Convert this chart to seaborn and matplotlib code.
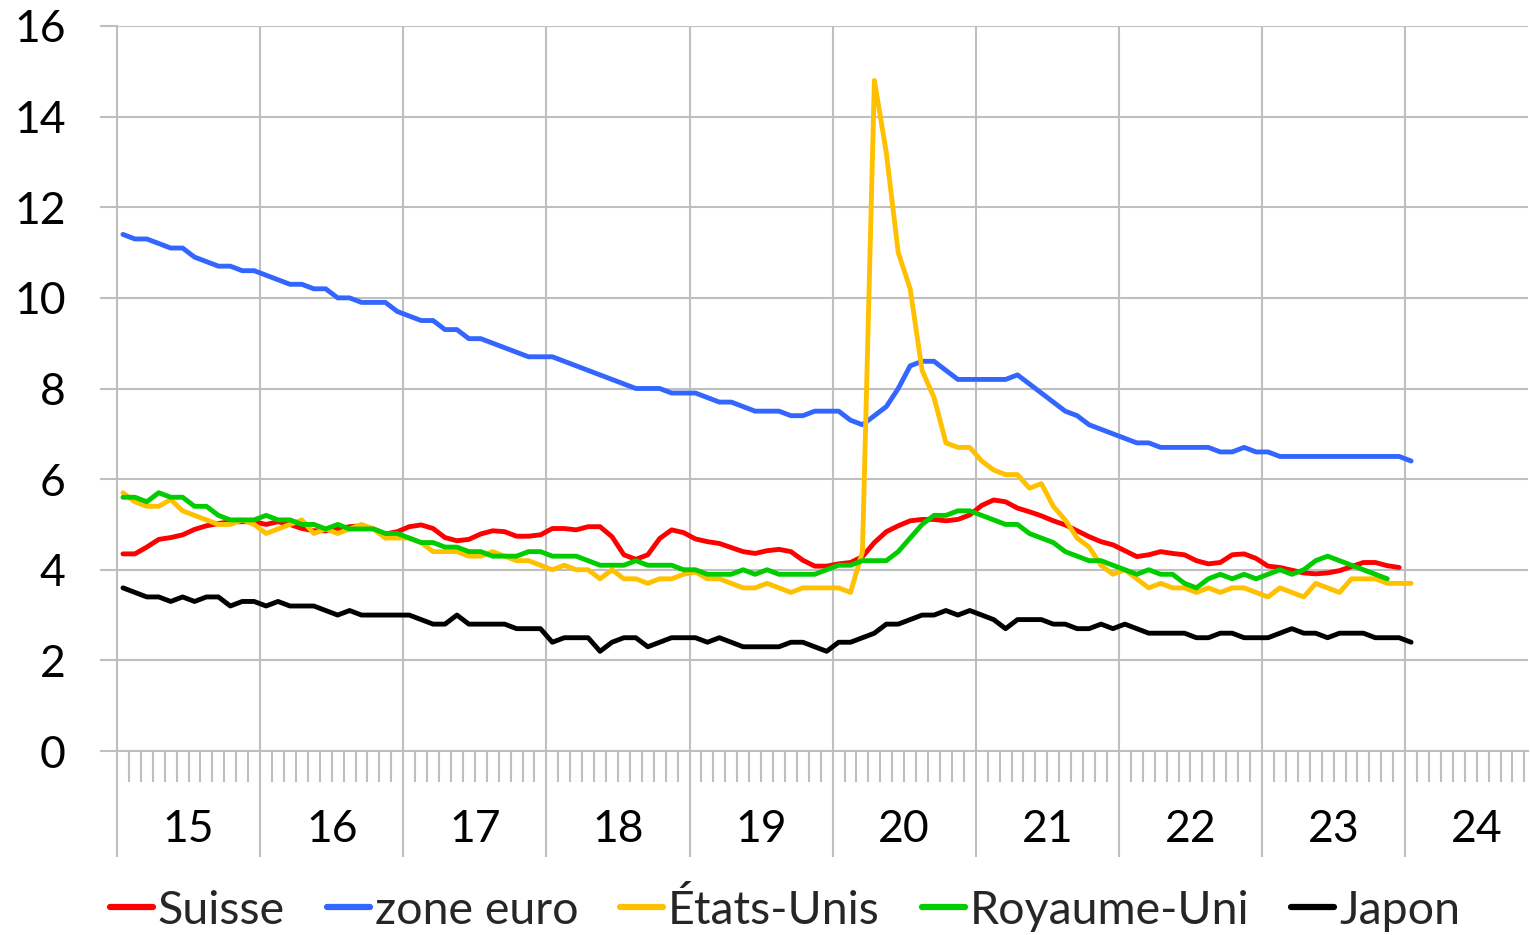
import numpy as np
import pandas as pd
import matplotlib
matplotlib.use("Agg")
import matplotlib.pyplot as plt
import matplotlib.transforms as mtransforms
import seaborn as sns

# Taux de chômage mensuels, janvier 2015 à janvier 2024
series_names = ["Suisse", "zone euro", "États-Unis", "Royaume-Uni", "Japon"]
series_colors = ["#FF0000", "#3366FF", "#FFC000", "#00CC00", "#000000"]
year_labels = ["15", "16", "17", "18", "19", "20", "21", "22", "23", "24"]
y_ticks = [0, 2, 4, 6, 8, 10, 12, 14, 16]
first_month = "2015-01-01"

suisse = [
    4.35, 4.35, 4.50, 4.67, 4.71, 4.77, 4.89, 4.97, 5.02, 5.06, 5.06, 5.06,
    5.00, 5.06, 5.00, 4.91, 4.86, 4.86, 4.90, 4.95, 4.97, 4.90, 4.79, 4.84,
    4.95, 4.99, 4.91, 4.71, 4.64, 4.67, 4.79, 4.86, 4.84, 4.74, 4.74, 4.77,
    4.91, 4.91, 4.88, 4.95, 4.95, 4.73, 4.33, 4.23, 4.33, 4.69, 4.88, 4.82,
    4.68, 4.62, 4.58, 4.49, 4.40, 4.36, 4.42, 4.45, 4.40, 4.21, 4.08, 4.08,
    4.13, 4.16, 4.29, 4.60, 4.84, 4.97, 5.08, 5.11, 5.11, 5.08, 5.11, 5.21,
    5.42, 5.54, 5.50, 5.36, 5.28, 5.19, 5.08, 4.99, 4.86, 4.73, 4.62, 4.55,
    4.42, 4.29, 4.33, 4.40, 4.36, 4.33, 4.20, 4.13, 4.16, 4.33, 4.35, 4.25,
    4.08, 4.05, 3.99, 3.93, 3.91, 3.93, 3.98, 4.07, 4.16, 4.16, 4.09, 4.05,
]

zone_euro = [
    11.4, 11.3, 11.3, 11.2, 11.1, 11.1, 10.9, 10.8, 10.7, 10.7, 10.6, 10.6,
    10.5, 10.4, 10.3, 10.3, 10.2, 10.2, 10.0, 10.0, 9.9, 9.9, 9.9, 9.7,
    9.6, 9.5, 9.5, 9.3, 9.3, 9.1, 9.1, 9.0, 8.9, 8.8, 8.7, 8.7,
    8.7, 8.6, 8.5, 8.4, 8.3, 8.2, 8.1, 8.0, 8.0, 8.0, 7.9, 7.9,
    7.9, 7.8, 7.7, 7.7, 7.6, 7.5, 7.5, 7.5, 7.4, 7.4, 7.5, 7.5,
    7.5, 7.3, 7.2, 7.4, 7.6, 8.0, 8.5, 8.6, 8.6, 8.4, 8.2, 8.2,
    8.2, 8.2, 8.2, 8.3, 8.1, 7.9, 7.7, 7.5, 7.4, 7.2, 7.1, 7.0,
    6.9, 6.8, 6.8, 6.7, 6.7, 6.7, 6.7, 6.7, 6.6, 6.6, 6.7, 6.6,
    6.6, 6.5, 6.5, 6.5, 6.5, 6.5, 6.5, 6.5, 6.5, 6.5, 6.5, 6.5,
    6.4,
]

etats_unis = [
    5.7, 5.5, 5.4, 5.4, 5.55, 5.3, 5.2, 5.1, 5.0, 5.0, 5.1, 5.0,
    4.8, 4.9, 5.0, 5.1, 4.8, 4.9, 4.8, 4.9, 5.0, 4.9, 4.7, 4.7,
    4.7, 4.6, 4.4, 4.4, 4.4, 4.3, 4.3, 4.4, 4.3, 4.2, 4.2, 4.1,
    4.0, 4.1, 4.0, 4.0, 3.8, 4.0, 3.8, 3.8, 3.7, 3.8, 3.8, 3.9,
    3.95, 3.8, 3.8, 3.7, 3.6, 3.6, 3.7, 3.6, 3.5, 3.6, 3.6, 3.6,
    3.6, 3.5, 4.4, 14.8, 13.2, 11.0, 10.2, 8.4, 7.8, 6.8, 6.7, 6.7,
    6.4, 6.2, 6.1, 6.1, 5.8, 5.9, 5.4, 5.1, 4.7, 4.5, 4.1, 3.9,
    4.0, 3.8, 3.6, 3.7, 3.6, 3.6, 3.5, 3.6, 3.5, 3.6, 3.6, 3.5,
    3.4, 3.6, 3.5, 3.4, 3.7, 3.6, 3.5, 3.8, 3.8, 3.8, 3.7, 3.7,
    3.7,
]

royaume_uni = [
    5.6, 5.6, 5.5, 5.7, 5.6, 5.6, 5.4, 5.4, 5.2, 5.1, 5.1, 5.1,
    5.2, 5.1, 5.1, 5.0, 5.0, 4.9, 5.0, 4.9, 4.9, 4.9, 4.8, 4.8,
    4.7, 4.6, 4.6, 4.5, 4.5, 4.4, 4.4, 4.3, 4.3, 4.3, 4.4, 4.4,
    4.3, 4.3, 4.3, 4.2, 4.1, 4.1, 4.1, 4.2, 4.1, 4.1, 4.1, 4.0,
    4.0, 3.9, 3.9, 3.9, 4.0, 3.9, 4.0, 3.9, 3.9, 3.9, 3.9, 4.0,
    4.1, 4.1, 4.2, 4.2, 4.2, 4.4, 4.7, 5.0, 5.2, 5.2, 5.3, 5.3,
    5.2, 5.1, 5.0, 5.0, 4.8, 4.7, 4.6, 4.4, 4.3, 4.2, 4.2, 4.1,
    4.0, 3.9, 4.0, 3.9, 3.9, 3.7, 3.6, 3.8, 3.9, 3.8, 3.9, 3.8,
    3.9, 4.0, 3.9, 4.0, 4.2, 4.3, 4.2, 4.1, 4.0, 3.9, 3.8,
]

japon = [
    3.6, 3.5, 3.4, 3.4, 3.3, 3.4, 3.3, 3.4, 3.4, 3.2, 3.3, 3.3,
    3.2, 3.3, 3.2, 3.2, 3.2, 3.1, 3.0, 3.1, 3.0, 3.0, 3.0, 3.0,
    3.0, 2.9, 2.8, 2.8, 3.0, 2.8, 2.8, 2.8, 2.8, 2.7, 2.7, 2.7,
    2.4, 2.5, 2.5, 2.5, 2.2, 2.4, 2.5, 2.5, 2.3, 2.4, 2.5, 2.5,
    2.5, 2.4, 2.5, 2.4, 2.3, 2.3, 2.3, 2.3, 2.4, 2.4, 2.3, 2.2,
    2.4, 2.4, 2.5, 2.6, 2.8, 2.8, 2.9, 3.0, 3.0, 3.1, 3.0, 3.1,
    3.0, 2.9, 2.7, 2.9, 2.9, 2.9, 2.8, 2.8, 2.7, 2.7, 2.8, 2.7,
    2.8, 2.7, 2.6, 2.6, 2.6, 2.6, 2.5, 2.5, 2.6, 2.6, 2.5, 2.5,
    2.5, 2.6, 2.7, 2.6, 2.6, 2.5, 2.6, 2.6, 2.6, 2.5, 2.5, 2.5,
    2.4,
]

# Long-format table: one row per country and month; x is the month slot
# (months counted from January 2015, points centred within each month)
frames = []
for name, values in zip(series_names, [suisse, zone_euro, etats_unis, royaume_uni, japon]):
    dates = pd.date_range(first_month, periods=len(values), freq="MS")
    pos = (dates.year - 2015) * 12 + (dates.month - 1) + 0.5
    frames.append(pd.DataFrame({"mois": pos, "taux": values, "pays": name}))
df = pd.concat(frames, ignore_index=True)

sns.set_theme(style="white")
plt.rcParams["font.family"] = ["Lato", "DejaVu Sans"]
plt.rcParams["lines.solid_capstyle"] = "round"
plt.rcParams["lines.solid_joinstyle"] = "round"

GRID = "#BFBFBF"
W, H = 1530, 935
fig = plt.figure(figsize=(W / 100, H / 100), dpi=100)
ax = fig.add_axes([117 / W, 1 - 751 / H, (1528 - 117) / W, (751 - 26) / H])

sns.lineplot(
    data=df, x="mois", y="taux", hue="pays", hue_order=series_names,
    palette=series_colors, linewidth=3.5, estimator=None, sort=False, ax=ax,
)

ax.set_xlim(0, 118.3)
ax.set_ylim(0, 16)
ax.set_xlabel("")
ax.set_ylabel("")

# Year boundaries as major ticks (long, running through the label band),
# months as short minor ticks
ax.set_xticks(np.arange(0, 12 * len(year_labels), 12))
ax.set_xticks(np.arange(0, 119, 1), minor=True)
ax.tick_params(axis="x", which="major", bottom=True, length=76, width=1.5,
               color=GRID, direction="out", labelbottom=False)
ax.tick_params(axis="x", which="minor", bottom=True, length=22, width=1.5,
               color=GRID, direction="out")
ax.set_yticks(y_ticks)
ax.set_yticklabels([str(v) for v in y_ticks])
ax.tick_params(axis="y", which="major", left=True, length=12, width=1.5,
               color=GRID, direction="out", pad=25, labelsize=32,
               labelcolor="black")

ax.grid(True, which="major", color=GRID, linewidth=1.5)
ax.set_axisbelow(True)
for side in ["top", "right"]:
    ax.spines[side].set_visible(False)
for side in ["left", "bottom"]:
    ax.spines[side].set_color(GRID)
    ax.spines[side].set_linewidth(1.5)

# Year labels centred under each year
trans = mtransforms.blended_transform_factory(ax.transData, ax.transAxes)
for k, lab in enumerate(year_labels):
    ax.text(12 * k + 6, -0.1255, lab, transform=trans, ha="center",
            va="baseline", fontsize=32, color="black")

handles, labels = ax.get_legend_handles_labels()
if ax.get_legend() is not None:
    ax.get_legend().remove()
leg = fig.legend(
    handles, labels, loc="center", bbox_to_anchor=(0.513, 1 - 910 / H),
    ncol=5, frameon=False, fontsize=33.5, handlelength=0.93,
    handletextpad=0.1, columnspacing=0.9,
)
for line in leg.get_lines():
    line.set_linewidth(4.5)
    line.set_solid_capstyle("round")

fig.savefig("out.png", dpi=100)
